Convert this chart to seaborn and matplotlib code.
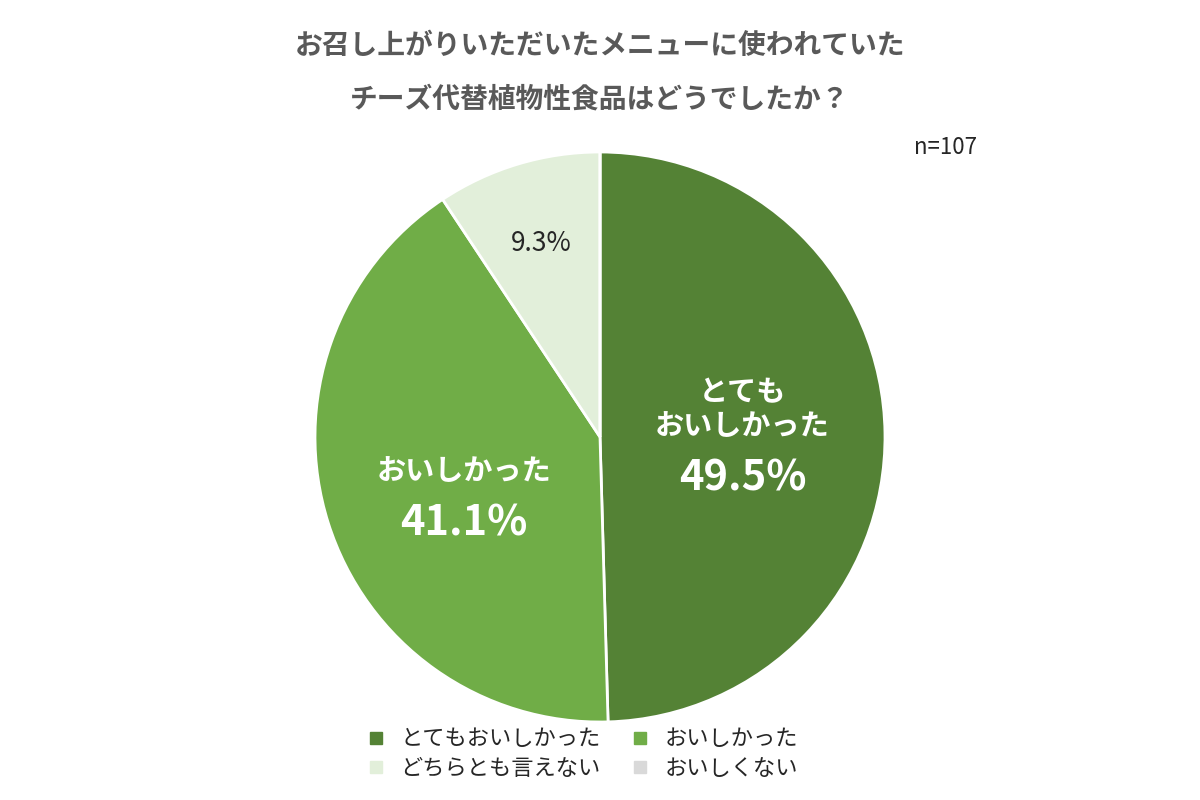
import matplotlib
matplotlib.use("Agg")
import matplotlib.pyplot as plt
import seaborn as sns
import numpy as np
from matplotlib.lines import Line2D

sns.set_theme(style="white")
plt.rcParams['font.family'] = ['Noto Sans CJK JP', 'DejaVu Sans']

categories = ["とてもおいしかった", "おいしかった", "どちらとも言えない", "おいしくない"]
values = [49.5, 41.1, 9.3, 0.0]
colors = ["#548235", "#70AD47", "#E2EFDA", "#D9D9D9"]
name_labels = ["とても\nおいしかった", "おいしかった", "", ""]

fig = plt.figure(figsize=(12, 8), dpi=100)
ax = fig.add_axes([0.2625, 0.0975, 0.475, 0.7125])
ax.pie(values, colors=colors, startangle=90, counterclock=False,
       wedgeprops=dict(edgecolor="white", linewidth=2))
ax.set_aspect("equal")
ax.set_xlim(-1, 1)
ax.set_ylim(-1, 1)
ax.axis("off")

total = sum(values)
cum = 0
for i, (v, name) in enumerate(zip(values, name_labels)):
    if v > 0:
        mid = np.deg2rad(90 - (cum + v / 2) / total * 360)
        pct = f"{v:.1f}%"
        if name:
            r = 0.5
            x, y = r * np.cos(mid), r * np.sin(mid)
            ax.text(x, y - 0.02, name, ha="center", va="bottom", fontsize=21,
                    color="white", fontweight="bold", linespacing=1.15)
            ax.text(x, y - 0.08, pct, ha="center", va="top", fontsize=30,
                    color="white", fontweight="bold")
        else:
            r = 0.71
            x, y = r * np.cos(mid), r * np.sin(mid)
            ax.text(x, y, pct, ha="center", va="center", fontsize=19, color="#262626")
    cum += v

fig.text(0.5, 0.943, "お召し上がりいただいたメニューに使われていた", ha="center", va="center",
         fontsize=20, fontweight="bold", color="#595959")
fig.text(0.5, 0.875, "チーズ代替植物性食品はどうでしたか？", ha="center", va="center",
         fontsize=20, fontweight="bold", color="#595959")
fig.text(0.788, 0.815, "n=107", ha="center", va="center", fontsize=16, color="#262626")

handles = [Line2D([0], [0], marker="s", linestyle="", markersize=9, markerfacecolor=c,
                  markeredgecolor=c) for c in colors]
order = [0, 2, 1, 3]
fig.legend([handles[i] for i in order], [categories[i] for i in order],
           loc="lower center", bbox_to_anchor=(0.48, 0.0), ncol=2,
           frameon=False, fontsize=16, handletextpad=0.1, columnspacing=0.8,
           labelspacing=0.3, labelcolor="#262626")

fig.savefig("out.png", dpi=100, facecolor="white")
